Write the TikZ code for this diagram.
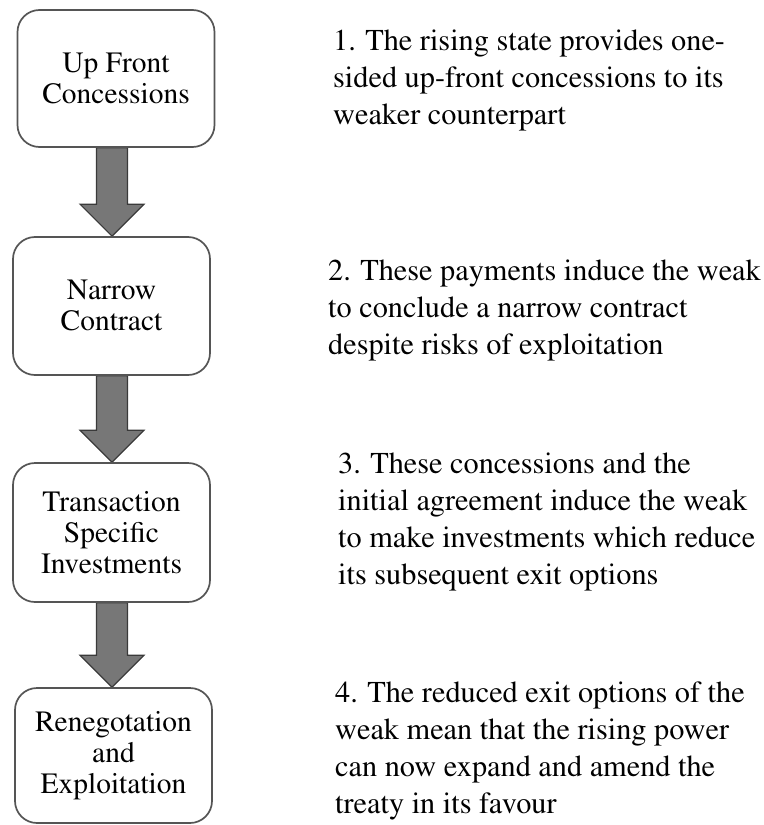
\documentclass[tikz,border=0pt]{standalone}
\usepackage[T1]{fontenc}
\renewcommand\rmdefault{ptm}
\usetikzlibrary{calc,backgrounds}
\definecolor{boxedge}{HTML}{555555}
\definecolor{arrowfill}{HTML}{777777}
\definecolor{arrowedge}{HTML}{3A3A3A}
\tikzset{
  x=1bp, y=-1bp,
  stage/.style={draw=boxedge, fill=white, line width=1.7bp, rounded corners=22bp,
    align=center, inner sep=0pt, minimum width=197bp,
    font=\rmfamily\fontsize{29.5bp}{31bp}\selectfont},
  note/.style={anchor=base west, inner sep=0pt,
    font=\rmfamily\fontsize{30.3bp}{37bp}\selectfont},
  flow/.style={fill=arrowfill, draw=arrowedge, line width=1.2bp, line join=miter}
}
% block arrow from the bottom of one stage to the top of the next
\newcommand\stagearrow[2]{%
  \draw[flow] let \p1=(#1.south), \p2=(#2.north), \p3=(axis) in
    (\x3-15.5bp,\y1) -- (\x3+15.5bp,\y1) -- (\x3+15.5bp,\y2+32bp)
    -- (\x3+32bp,\y2+32bp) -- (\x3,\y2) -- (\x3-32bp,\y2+32bp)
    -- (\x3-15.5bp,\y2+32bp) -- cycle;}
\begin{document}
\begin{tikzpicture}
\useasboundingbox (0,0) rectangle (764,825);
\coordinate (axis) at (112,0);

% stages
\node[stage, minimum height=137bp] (s1) at (116,78.5) {Up Front\\Concessions};
\node[stage, minimum height=138bp] (s2) at (111.5,306) {Narrow\\Contract};
\node[stage, minimum height=139bp] (s3) at (111.5,532.5) {Transaction\\Specific\\Investments};
\node[stage, minimum height=135bp] (s4) at (113.5,755.5) {Renegotation\\and\\Exploitation};

\begin{scope}[on background layer]
  \stagearrow{s1}{s2}
  \stagearrow{s2}{s3}
  \stagearrow{s3}{s4}
\end{scope}

% explanations
\node[note] (t1) at (333,50) {\begin{tabular}[t]{@{}l@{}}1. The rising state provides one-\\sided up-front concessions to its\\weaker counterpart\end{tabular}};
\node[note] (t2) at (328,280) {\begin{tabular}[t]{@{}l@{}}2. These payments induce the weak\\to conclude a narrow contract\\despite risks of exploitation\end{tabular}};
\node[note] (t3) at (338,473) {\begin{tabular}[t]{@{}l@{}}3. These concessions and the\\initial agreement induce the weak\\to make investments which reduce\\its subsequent exit options\end{tabular}};
\node[note] (t4) at (335,702) {\begin{tabular}[t]{@{}l@{}}4. The reduced exit options of the\\weak mean that the rising power\\can now expand and amend the\\treaty in its favour\end{tabular}};
\end{tikzpicture}
\end{document}
